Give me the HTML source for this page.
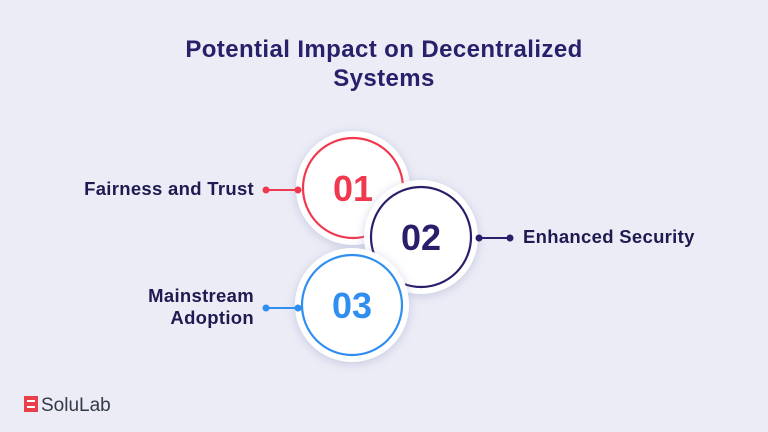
<!DOCTYPE html>
<html><head><meta charset="utf-8"><style>
body{margin:0;width:768px;height:432px;background:#ebecf6;font-family:"Liberation Sans",sans-serif;position:relative;overflow:hidden}
.t{position:absolute;color:#1e1b50;font-weight:bold;font-size:18.5px;letter-spacing:0.3px;white-space:nowrap}
</style></head><body>
<div class="t" style="left:0;width:768px;top:35px;text-align:center;font-size:24px;letter-spacing:0.4px;line-height:29px;color:#27206a">Potential Impact on Decentralized<br>Systems</div>
<div class="t" style="right:514px;top:178px">Fairness and Trust</div>
<div class="t" style="left:523px;top:226px">Enhanced Security</div>
<div class="t" style="right:514px;top:285px;text-align:right;line-height:22px">Mainstream<br>Adoption</div>
<svg width="768" height="432" style="position:absolute;left:0;top:0">
<defs><filter id="s" x="-30%" y="-30%" width="160%" height="160%"><feDropShadow dx="0" dy="2" stdDeviation="5" flood-color="#9aa0c8" flood-opacity="0.45"/></filter></defs>
<circle cx="353" cy="188" r="57" fill="#fff" filter="url(#s)"/><circle cx="353" cy="188" r="50" fill="none" stroke="#f0384f" stroke-width="2.2"/>
<text x="353" y="201" text-anchor="middle" font-size="36" font-weight="bold" fill="#f0384f" font-family="Liberation Sans">01</text>
<circle cx="421" cy="237" r="57" fill="#fff" filter="url(#s)"/><circle cx="421" cy="237" r="50" fill="none" stroke="#2a1e6b" stroke-width="2.2"/>
<text x="421" y="250" text-anchor="middle" font-size="36" font-weight="bold" fill="#2a1e6b" font-family="Liberation Sans">02</text>
<circle cx="352" cy="305" r="57" fill="#fff" filter="url(#s)"/><circle cx="352" cy="305" r="50" fill="none" stroke="#2f8ef0" stroke-width="2.2"/>
<text x="352" y="318" text-anchor="middle" font-size="36" font-weight="bold" fill="#2f8ef0" font-family="Liberation Sans">03</text>
<g stroke-width="2">
<line x1="266" y1="190" x2="297" y2="190" stroke="#f0384f"/><circle cx="266" cy="190" r="3.5" fill="#f0384f"/><circle cx="298" cy="190" r="3.5" fill="#f0384f"/>
<line x1="479" y1="238" x2="510" y2="238" stroke="#2a1e6b"/><circle cx="479" cy="238" r="3.5" fill="#2a1e6b"/><circle cx="510" cy="238" r="3.5" fill="#2a1e6b"/>
<line x1="266" y1="308" x2="297" y2="308" stroke="#2f8ef0"/><circle cx="266" cy="308" r="3.5" fill="#2f8ef0"/><circle cx="298" cy="308" r="3.5" fill="#2f8ef0"/>
</g>
<rect x="24" y="396" width="14" height="16" fill="#e8404a"/><rect x="27" y="400" width="8" height="2" fill="#fff"/><rect x="27" y="406" width="8" height="2" fill="#fff"/>
<text x="41" y="411" font-size="19" fill="#333a48" font-family="Liberation Sans">SoluLab</text>
</svg>
</body></html>
